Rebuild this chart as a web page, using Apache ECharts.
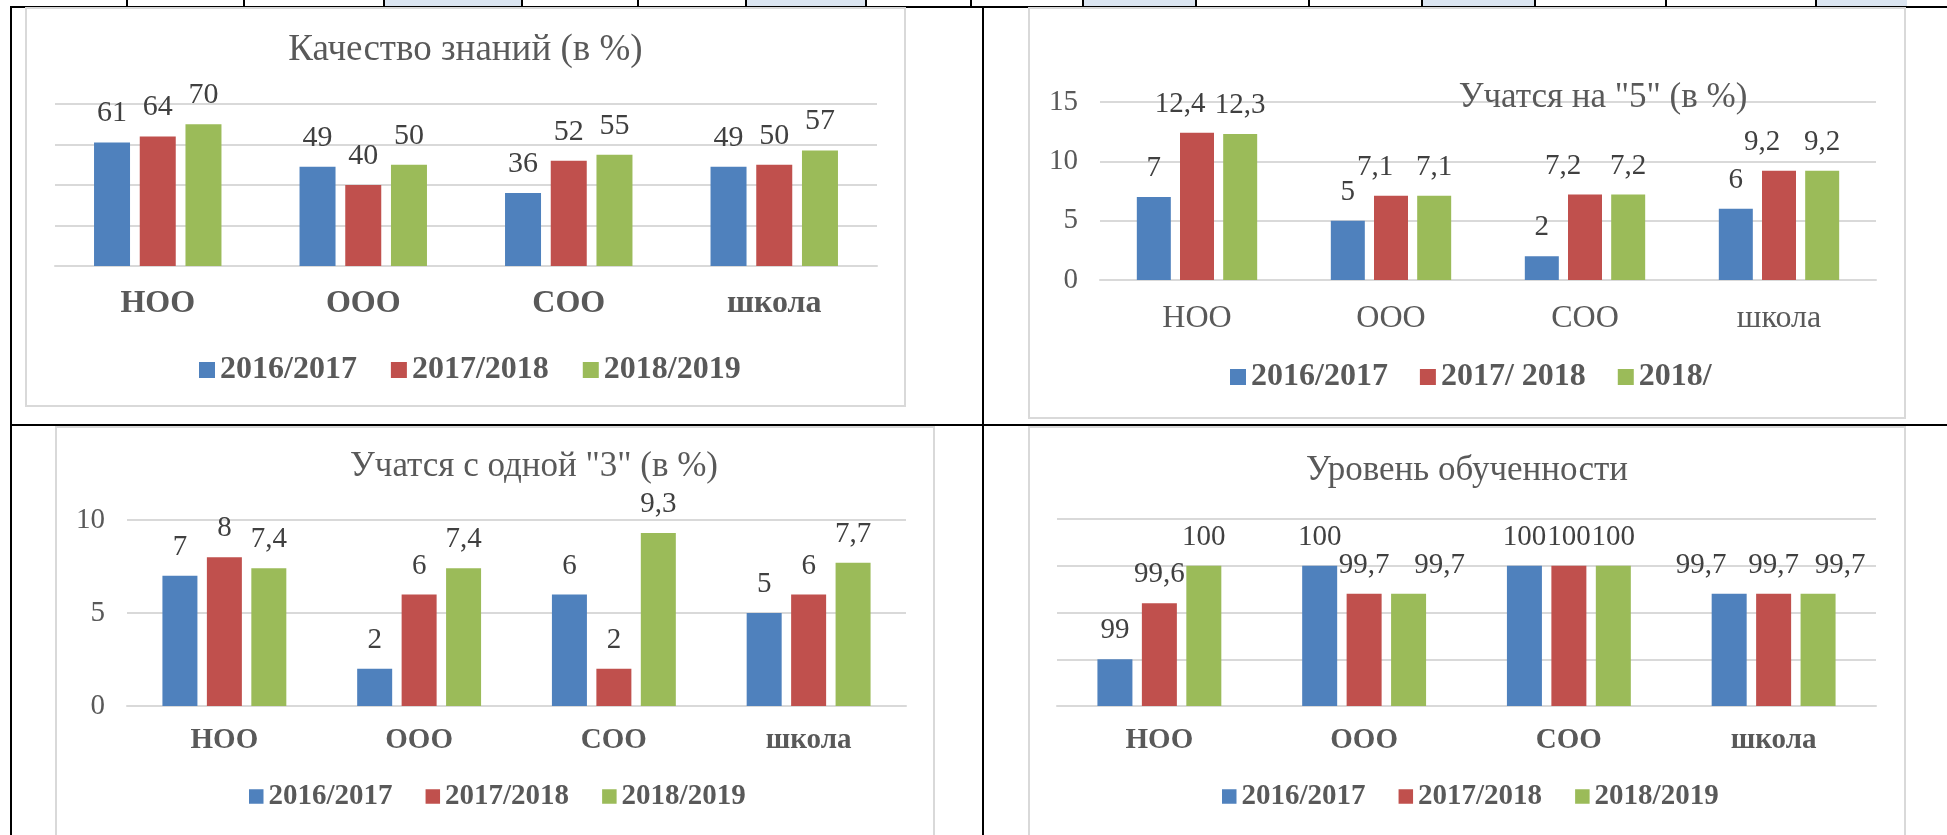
<!DOCTYPE html>
<html>
<head>
    <meta charset="utf-8" />
    <script src="https://cdn.jsdelivr.net/npm/echarts@6.0.0/dist/echarts.min.js"></script>
    <title>Итоги успеваемости</title>
    <style>
        body { margin: 0; background: #fff; }
        #page { position: relative; width: 1947px; height: 835px; overflow: hidden; background: #fff; }
        .line { position: absolute; background: #000; }
        .fill { position: absolute; background: #DBE5F1; }
        .frame { position: absolute; background: #fff; border: 2px solid #D9D9D9; box-sizing: border-box; }
        .chart { position: absolute; }
    </style>
</head>
<body>
    <div id="page">
        <div id="table"></div>
        <div class="frame" style="left:25px;top:7px;width:881px;height:400px"></div>
        <div class="chart" id="chart-1" style="left:25px;top:7px;width:881px;height:400px"></div>
        <div class="frame" style="left:1028px;top:7px;width:878px;height:412px"></div>
        <div class="chart" id="chart-2" style="left:1028px;top:7px;width:878px;height:412px"></div>
        <div class="frame" style="left:55px;top:426px;width:880px;height:420px"></div>
        <div class="chart" id="chart-3" style="left:55px;top:426px;width:880px;height:420px"></div>
        <div class="frame" style="left:1028px;top:426px;width:878px;height:420px"></div>
        <div class="chart" id="chart-4" style="left:1028px;top:426px;width:878px;height:420px"></div>
    </div>
    <script type="text/javascript">
        // категории и серии
        var categories = ['НОО', 'ООО', 'СОО', 'школа'];
        var years = ['2016/2017', '2017/2018', '2018/2019'];
        var years5 = ['2016/2017', '2017/ 2018', '2018/'];

        // Качество знаний (в %)
        var knowledge2016 = [61, 49, 36, 49];
        var knowledge2017 = [64, 40, 52, 50];
        var knowledge2018 = [70, 50, 55, 57];

        // Учатся на "5" (в %)
        var excellent2016 = [7, 5, 2, 6];
        var excellent2017 = [12.4, 7.1, 7.2, 9.2];
        var excellent2018 = [12.3, 7.1, 7.2, 9.2];

        // Учатся с одной "3" (в %)
        var oneC2016 = [7, 2, 6, 5];
        var oneC2017 = [8, 6, 2, 6];
        var oneC2018 = [7.4, 7.4, 9.3, 7.7];

        // Уровень обученности
        var level2016 = [99, 100, 100, 99.7];
        var level2017 = [99.6, 99.7, 100, 99.7];
        var level2018 = [100, 99.7, 100, 99.7];

        // деления осей
        var ticks1 = [0, 20, 40, 60, 80];
        var ticks2 = [0, 5, 10, 15];
        var ticks3 = [0, 5, 10];
        var ticks4 = [98.5, 99, 99.5, 100, 100.5];

        var colors = ['#4F81BD', '#C0504D', '#9BBB59'];
        var serif = '"Liberation Serif", "Times New Roman", serif';

        // рамки таблицы сверху (обрезанная строка)
        var cellLines = [126, 243, 383, 521, 637, 745, 865, 970, 1082, 1195, 1308, 1421, 1534, 1665, 1815];
        var cellFills = [[383, 521], [745, 865], [1082, 1195], [1421, 1534], [1815, 1907]];
        function drawTable() {
            var html = '';
            cellFills.forEach(function (f) {
                html += '<div class="fill" style="left:' + f[0] + 'px;top:0;width:' + (f[1] - f[0]) + 'px;height:7px"></div>';
            });
            cellLines.forEach(function (x) {
                html += '<div class="line" style="left:' + x + 'px;top:0;width:2px;height:8px"></div>';
            });
            html += '<div class="line" style="left:10px;top:6px;width:1937px;height:2px"></div>';
            html += '<div class="line" style="left:10px;top:6px;width:2px;height:829px"></div>';
            html += '<div class="line" style="left:982px;top:6px;width:2px;height:829px"></div>';
            html += '<div class="line" style="left:10px;top:424px;width:1937px;height:2px"></div>';
            document.getElementById('table').innerHTML = html;
        }

        function fmt(v) {
            return String(v).replace('.', ',');
        }

        function buildOption(c) {
            var series = c.values.map(function (vals, i) {
                return {
                    name: c.names[i],
                    type: 'bar',
                    barWidth: c.barWidth,
                    barGap: '27%',
                    clip: true,
                    itemStyle: { color: colors[i] },
                    label: {
                        show: true,
                        position: 'top',
                        distance: 14,
                        fontFamily: serif,
                        fontSize: c.labelSize,
                        color: '#404040',
                        formatter: function (p) { return fmt(p.value); }
                    },
                    data: vals.map(function (v, j) {
                        var dx = (c.shifts && c.shifts[i]) ? c.shifts[i][j] : 0;
                        return { value: v, label: { offset: [dx, 0] } };
                    })
                };
            });
            var ticks = c.ticks;
            return {
                animation: false,
                title: {
                    text: c.title,
                    left: c.titleX,
                    top: c.titleY,
                    textAlign: c.titleX === 'center' ? undefined : 'center',
                    padding: 0,
                    textStyle: { fontFamily: serif, fontSize: c.titleSize, fontWeight: 'normal', color: '#595959' }
                },
                legend: {
                    data: c.names,
                    left: c.legendX,
                    top: c.legendY,
                    padding: 0,
                    icon: 'rect',
                    itemWidth: c.legendSize / 2,
                    itemHeight: c.legendSize / 2,
                    itemGap: c.legendGap,
                    textStyle: { fontFamily: serif, fontSize: c.legendSize, fontWeight: 'bold', color: '#595959' }
                },
                grid: c.grid,
                xAxis: {
                    type: 'category',
                    data: categories,
                    axisTick: { show: false },
                    axisLine: { lineStyle: { color: '#D9D9D9', width: 2 } },
                    axisLabel: {
                        fontFamily: serif,
                        fontSize: c.catSize,
                        fontWeight: c.catWeight,
                        color: '#595959',
                        margin: c.catMargin
                    }
                },
                yAxis: {
                    type: 'value',
                    min: ticks[0],
                    max: ticks[ticks.length - 1],
                    interval: ticks[1] - ticks[0],
                    startValue: ticks[0],
                    axisLine: { show: false },
                    axisTick: { show: false },
                    splitLine: { lineStyle: { color: '#D9D9D9', width: 2 } },
                    axisLabel: {
                        show: c.showY,
                        fontFamily: serif,
                        fontSize: 29,
                        color: '#595959',
                        margin: 22,
                        formatter: function (v) { return fmt(v); }
                    }
                },
                series: series
            };
        }

        drawTable();

        var chart1 = echarts.init(document.getElementById('chart-1'));
        chart1.setOption(buildOption({
            title: 'Качество знаний (в %)',
            titleX: 'center', titleY: 25, titleSize: 37,
            names: years,
            values: [knowledge2016, knowledge2017, knowledge2018],
            ticks: ticks1, showY: false,
            grid: { left: 30, top: 97, width: 822, height: 162 },
            barWidth: 36, labelSize: 30,
            catSize: 32, catWeight: 'bold', catMargin: 22,
            legendX: 174, legendY: 347, legendSize: 32, legendGap: 34
        }));

        var chart2 = echarts.init(document.getElementById('chart-2'));
        chart2.setOption(buildOption({
            title: 'Учатся на "5" (в %)',
            titleX: 575, titleY: 73, titleSize: 35,
            names: years5,
            values: [excellent2016, excellent2017, excellent2018],
            shifts: [null, [-17, -16, -22, -17], null],
            ticks: ticks2, showY: true,
            grid: { left: 72, top: 95, width: 776, height: 178 },
            barWidth: 34, labelSize: 29,
            catSize: 32, catWeight: 'normal', catMargin: 23,
            legendX: 202, legendY: 354, legendSize: 32, legendGap: 32
        }));

        var chart3 = echarts.init(document.getElementById('chart-3'));
        chart3.setOption(buildOption({
            title: 'Учатся с одной "3" (в %)',
            titleX: 479, titleY: 23, titleSize: 35,
            names: years,
            values: [oneC2016, oneC2017, oneC2018],
            ticks: ticks3, showY: true,
            grid: { left: 72, top: 94, width: 779, height: 186 },
            barWidth: 35, labelSize: 29,
            catSize: 29, catWeight: 'bold', catMargin: 20,
            legendX: 194, legendY: 356, legendSize: 29, legendGap: 33
        }));

        var chart4 = echarts.init(document.getElementById('chart-4'));
        chart4.setOption(buildOption({
            title: 'Уровень обученности',
            titleX: 'center', titleY: 27, titleSize: 35,
            names: years,
            values: [level2016, level2017, level2018],
            shifts: [[0, 0, 0, -28], [0, 0, 0, 0], [0, 31, 0, 22]],
            ticks: ticks4, showY: false,
            grid: { left: 29, top: 93, width: 819, height: 187 },
            barWidth: 35, labelSize: 29,
            catSize: 29, catWeight: 'bold', catMargin: 20,
            legendX: 194, legendY: 356, legendSize: 29, legendGap: 33
        }));
    </script>
</body>
</html>
